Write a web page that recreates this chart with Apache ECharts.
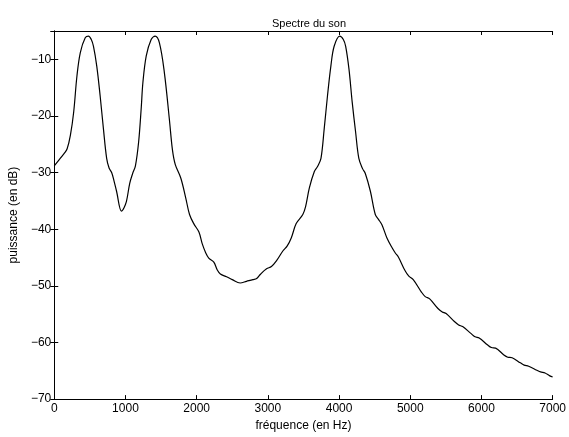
<!DOCTYPE html>
<html>
<head>
<meta charset="utf-8">
<script src="https://cdn.jsdelivr.net/npm/echarts@6/dist/echarts.min.js"></script>
<style>
html,body{margin:0;padding:0;background:#fff;}
#chart{width:569px;height:437px;}
</style>
</head>
<body>
<div id="chart"></div>
<script>
const titleText = 'Spectre du son';
const xName = 'fréquence (en Hz)';
const yName = 'puissance (en dB)';
const freq = [0,65,140,181,227,273,319,366,435,481,520,551,597,644,690,736,770,806,840,875,944,980,1014,1060,1100,1140,1185,1222,1245,1292,1361,1417,1477,1546,1616,1660,1700,1778,1847,1900,1963,2032,2079,2125,2170,2241,2290,2333,2420,2500,2611,2700,2790,2843,2900,2982,3050,3120,3213,3270,3330,3398,3491,3530,3583,3653,3700,3746,3792,3838,3885,3931,4010,4060,4093,4139,4185,4232,4278,4330,4370,4440,4509,4556,4602,4671,4741,4790,4833,4926,4980,5042,5157,5210,5273,5389,5450,5504,5620,5680,5736,5851,5910,5968,6083,6140,6199,6315,6370,6431,6546,6600,6663,6778,6830,6893,6960,7000];
const power = [-28.8,-27.8,-26.6,-25.8,-23.4,-19.3,-12.9,-8.8,-6.2,-5.9,-6.5,-7.7,-11.2,-16.4,-22.2,-27.5,-29.2,-30.0,-31.5,-33.3,-36.8,-36.2,-35.1,-31.9,-30.2,-28.8,-24.6,-18.5,-14.1,-9.4,-6.5,-5.9,-7.1,-12.3,-20.5,-26.0,-28.6,-31.0,-34.5,-37.4,-39.1,-40.5,-42.6,-44.1,-45.1,-45.8,-47.2,-47.9,-48.4,-48.9,-49.5,-49.2,-48.9,-48.7,-47.9,-47.0,-46.6,-45.6,-43.8,-43.0,-41.5,-39.0,-37.4,-36.0,-32.7,-29.8,-28.9,-27.5,-22.2,-16.4,-11.2,-7.7,-5.9,-6.5,-7.7,-11.7,-17.6,-22.8,-27.5,-29.3,-30.2,-33.3,-37.4,-38.3,-39.2,-41.5,-43.2,-44.2,-44.9,-47.3,-48.3,-48.9,-51.1,-51.9,-52.3,-54.0,-54.6,-54.9,-56.3,-56.9,-57.2,-58.4,-59.0,-59.2,-60.4,-60.9,-61.0,-62.2,-62.6,-62.7,-63.6,-64.0,-64.2,-64.9,-65.2,-65.4,-65.9,-66.1];
const xTicks = [0,1000,2000,3000,4000,5000,6000,7000];
const yTicks = [-70,-60,-50,-40,-30,-20,-10];

const chart = echarts.init(document.getElementById('chart'));
const FONT = 'Liberation Sans, Arial, Helvetica, sans-serif';
const fmtY = v => yTicks.indexOf(v) >= 0 ? String(v).replace('-', '\u2212') : '';
const fmtX = v => xTicks.indexOf(v) >= 0 ? String(v) : '';
const lineStyle = {color:'#000', width:1};
chart.setOption({
  animation:false,
  backgroundColor:'#fff',
  title:{text:titleText, left:304, top:13, textAlign:'center',
    textStyle:{fontFamily:FONT, fontSize:11, fontWeight:'normal', color:'#000'}},
  grid:{left:52, right:13, top:31, bottom:34},
  xAxis:[{
    type:'value', min:0, max:7000, interval:1000, position:'bottom',
    name:xName, nameLocation:'middle', nameGap:18,
    nameTextStyle:{fontFamily:FONT, fontSize:12, color:'#000'},
    axisLine:{show:true, lineStyle:lineStyle},
    axisTick:{show:true, inside:true, length:4, lineStyle:lineStyle},
    axisLabel:{fontFamily:FONT, fontSize:12, color:'#000', margin:4, formatter:fmtX},
    splitLine:{show:false}
  },{
    type:'value', min:0, max:7000, interval:1000, position:'top',
    axisLine:{show:true, lineStyle:lineStyle},
    axisTick:{show:true, inside:true, length:4, lineStyle:lineStyle},
    axisLabel:{show:false}, splitLine:{show:false}
  }],
  yAxis:[{
    type:'value', min:-70, max:-5, interval:10, position:'left',
    name:yName, nameLocation:'middle', nameGap:31, nameRotate:90,
    nameTextStyle:{fontFamily:FONT, fontSize:12, color:'#000'},
    axisLine:{show:true, lineStyle:lineStyle},
    axisTick:{show:true, inside:true, length:4, lineStyle:lineStyle},
    axisLabel:{fontFamily:FONT, fontSize:12, color:'#000', margin:3, formatter:fmtY, showMaxLabel:false},
    splitLine:{show:false}
  },{
    type:'value', min:-70, max:-5, interval:10, position:'right',
    axisLine:{show:true, lineStyle:lineStyle},
    axisTick:{show:true, inside:true, length:4, lineStyle:lineStyle},
    axisLabel:{show:false}, splitLine:{show:false}
  }],
  series:[{
    type:'line', xAxisIndex:0, yAxisIndex:0,
    data:freq.map((f,i)=>[f, power[i]]),
    smooth:0.35, showSymbol:false,
    lineStyle:{color:'#000', width:1.2}
  }]
});
</script>
</body>
</html>
